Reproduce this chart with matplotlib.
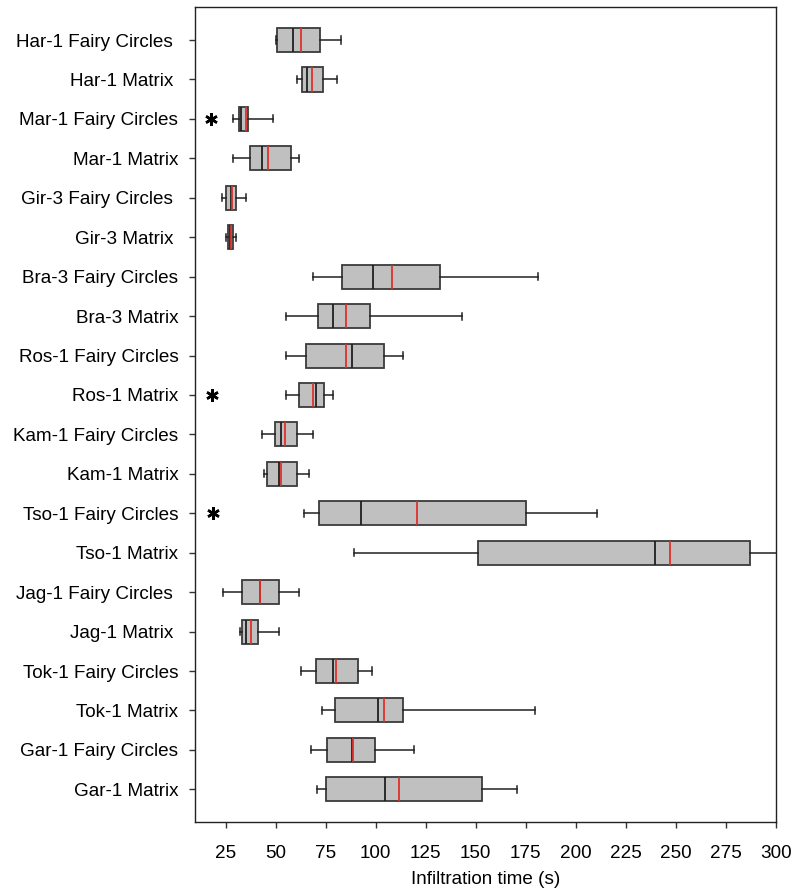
import numpy as np
import matplotlib
matplotlib.use('Agg')
import matplotlib.pyplot as plt

plt.rcParams['font.family'] = ['Liberation Sans', 'DejaVu Sans']

# site / microhabitat labels, top to bottom
labels = ['Har-1 Fairy Circles ', 'Har-1 Matrix ', 'Mar-1 Fairy Circles', 'Mar-1 Matrix',
          'Gir-3 Fairy Circles ', 'Gir-3 Matrix ', 'Bra-3 Fairy Circles', 'Bra-3 Matrix',
          'Ros-1 Fairy Circles', 'Ros-1 Matrix', 'Kam-1 Fairy Circles', 'Kam-1 Matrix',
          'Tso-1 Fairy Circles', 'Tso-1 Matrix', 'Jag-1 Fairy Circles ', 'Jag-1 Matrix ',
          'Tok-1 Fairy Circles', 'Tok-1 Matrix', 'Gar-1 Fairy Circles', 'Gar-1 Matrix']

# infiltration time summaries (s)
whis_lo = [50.1, 60.9, 28.8, 28.8, 23.0, 25.0, 68.9, 55.1, 55.1, 55.1,
           43.0, 44.1, 64.2, 89.3, 23.8, 32.0, 62.9, 73.1, 67.7, 70.9]
q1 = [50.9, 63.2, 31.8, 37.3, 25.0, 26.3, 83.2, 71.4, 65.2, 61.7,
      49.9, 45.5, 71.9, 150.9, 33.3, 33.0, 70.4, 79.7, 75.7, 75.2]
median = [58.7, 65.6, 32.5, 43.0, 27.6, 27.1, 98.8, 78.9, 88.0, 70.1,
          52.7, 51.9, 92.4, 239.7, 42.0, 35.0, 78.9, 101.2, 88.0, 104.8]
mean = [62.9, 68.4, 35.0, 46.0, 28.0, 27.5, 108.3, 85.2, 85.2, 68.7,
        54.6, 52.6, 120.6, 247.2, 42.3, 37.6, 80.0, 104.1, 88.7, 111.6]
q3 = [72.4, 73.7, 36.3, 57.9, 30.0, 28.8, 131.9, 97.3, 104.3, 74.4,
      60.9, 60.9, 175.3, 286.8, 51.9, 41.1, 90.9, 113.8, 99.8, 152.9]
whis_hi = [82.6, 80.9, 48.8, 61.7, 35.0, 30.0, 181.0, 142.9, 113.8, 78.9,
           68.9, 66.7, 210.8, 320.0, 61.9, 51.9, 97.9, 179.8, 119.0, 170.7]
outliers = {2: [17.5], 9: [18.0], 12: [18.7]}

stats = []
for i in range(len(labels)):
    stats.append({'label': labels[i], 'whislo': whis_lo[i], 'q1': q1[i], 'med': median[i],
                  'mean': mean[i], 'q3': q3[i], 'whishi': whis_hi[i],
                  'fliers': outliers.get(i, [])})

fig = plt.figure(figsize=(7.94, 8.91), dpi=100)
ax = fig.add_axes([0.2456, 0.0778, 0.9773 - 0.2456, 0.9918 - 0.0778])

pos = np.arange(len(labels))
ax.bxp(stats, positions=pos, vert=False, widths=0.61, capwidths=0.18,
       patch_artist=True, showmeans=True, meanline=True, showfliers=True,
       boxprops=dict(facecolor='#c0c0c0', edgecolor='#3a3a3a', linewidth=1.3),
       medianprops=dict(color='#202020', linewidth=1.3),
       meanprops=dict(color='#e0302c', linestyle='-', linewidth=1.3),
       whiskerprops=dict(color='#202020', linewidth=1.1),
       capprops=dict(color='#202020', linewidth=1.1),
       flierprops=dict(marker=(6, 2, 0), markersize=9, markeredgewidth=1.8,
                       markeredgecolor='black', linestyle='none'))

ax.set_xlim(9.7, 299.8)
ax.set_ylim(19.82, -0.83)
ax.set_xticks(np.arange(25, 301, 25))
ax.set_yticks(pos)
ax.set_yticklabels(labels)
ax.tick_params(axis='both', labelsize=13.6, length=4, width=1, color='#333333')
ax.tick_params(axis='y', pad=8)
ax.tick_params(axis='x', pad=13)
ax.set_xlabel('Infiltration time (s)', fontsize=13.6, labelpad=6)
for s in ax.spines.values():
    s.set_linewidth(1.0)
    s.set_color('#222222')

fig.savefig('out.png', dpi=100)
